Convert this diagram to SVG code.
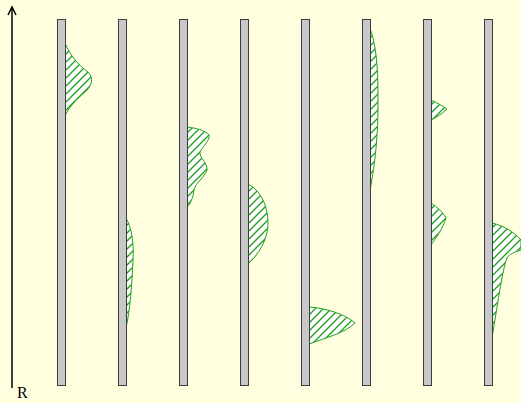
<svg xmlns="http://www.w3.org/2000/svg" width="521" height="403" viewBox="0 0 521 403">
<style>
.bar{fill:#c8c8c8;stroke:#3c3c3c;stroke-width:1}
.dist{fill:url(#hatch);stroke:#1f9f1f;stroke-width:1}
.axis{stroke:#000;stroke-width:1.5;fill:none}
.lbl{font-family:"Liberation Serif",serif;font-size:16px;fill:#000}
</style>
<defs>
<pattern id="hatch" patternUnits="userSpaceOnUse" width="8" height="8">
<rect width="8" height="8" fill="#fff"/>
<path d="M-1,9 L9,-1 M-3,3 L3,-3 M5,11 L11,5" stroke="#1f9f1f" stroke-width="1.3"/>
</pattern>
</defs>
<rect width="521" height="403" fill="#ffffe0"/>
<g id="connectors">
<line class="axis" x1="12" y1="388" x2="12" y2="8"/>
<path class="axis" d="M8,15 L12,7 L16,15"/>
</g>
<text class="lbl" x="17" y="398">R</text>
<g id="distributions">
<path class="dist" d="M65,43 C70,55 78,65 88,72 C94,78 92,86 85,92 C76,100 68,108 65,116 Z"/>
<path class="dist" d="M126,218 C132,228 134,245 133,260 C132,285 130,310 126,328 Z"/>
<path class="dist" d="M187,127 C195,128 205,130 209,135 C210,140 204,145 200,152 C199,158 208,163 207,170 C204,178 196,182 194,190 C193,198 190,205 187,207 Z"/>
<path class="dist" d="M248,184 C260,190 268,205 268,223 C268,240 258,255 248,264 Z"/>
<path class="dist" d="M309,307 C325,308 345,314 355,323 C345,333 325,338 309,344 Z"/>
<path class="dist" d="M370,28 C378,50 378,80 378,105 C378,140 374,170 370,190 Z"/>
<path class="dist" d="M431,100 C437,103 443,106 447,109 C443,113 437,117 431,120 Z"/>
<path class="dist" d="M431,203 C437,207 443,212 446,218 C443,228 436,238 431,245 Z"/>
<path class="dist" d="M492,223 C505,226 515,233 521,240 L521,250 C515,252 509,254 507,258 C502,270 497,310 492,337 Z"/>
</g>
<g id="bar1"><rect class="bar" x="57.5" y="19.5" width="8" height="366"/></g>
<g id="bar2"><rect class="bar" x="118.5" y="19.5" width="8" height="366"/></g>
<g id="bar3"><rect class="bar" x="179.5" y="19.5" width="8" height="366"/></g>
<g id="bar4"><rect class="bar" x="240.5" y="19.5" width="8" height="366"/></g>
<g id="bar5"><rect class="bar" x="301.5" y="19.5" width="8" height="366"/></g>
<g id="bar6"><rect class="bar" x="362.5" y="19.5" width="8" height="366"/></g>
<g id="bar7"><rect class="bar" x="423.5" y="19.5" width="8" height="366"/></g>
<g id="bar8"><rect class="bar" x="484.5" y="19.5" width="8" height="366"/></g>
</svg>
